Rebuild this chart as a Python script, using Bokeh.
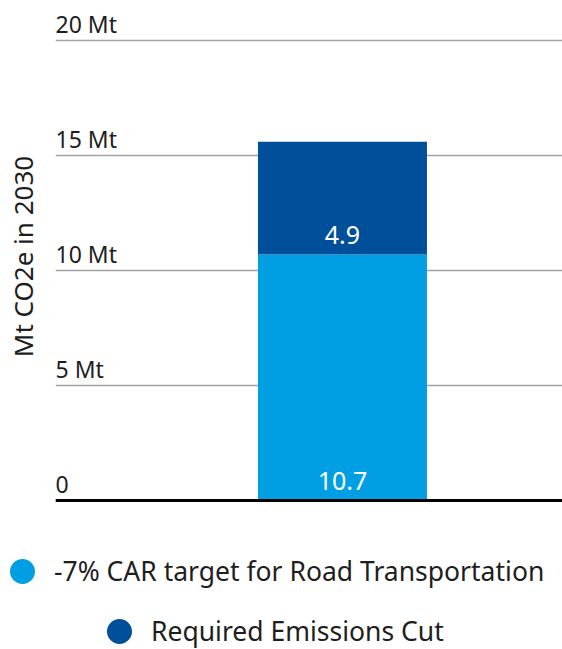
from bokeh.plotting import figure
from bokeh.layouts import column
from bokeh.models import (ColumnDataSource, Range1d, FixedTicker, Span, Legend,
                          LegendItem, LabelSet)
from bokeh.core.properties import value
from bokeh.embed import file_html
from bokeh.resources import INLINE

# ---- data ----
categories = ["2030"]
base_values = [10.7]          # -7% CAR target for Road Transportation
cut_values = [4.9]            # Required Emissions Cut
series_names = ["-7% CAR target for Road Transportation", "Required Emissions Cut"]
series_colors = ["#009FE3", "#004F9A"]
tick_values = [0, 5, 10, 15, 20]
tick_labels = ["0", "5 Mt", "10 Mt", "15 Mt", "20 Mt"]
y_axis_title = "Mt CO2e in 2030"

FONT = "Noto Sans"
TEXT_COLOR = "#1e1e1e"

x_pos = list(range(len(categories)))
source = ColumnDataSource(dict(x=x_pos, cat=categories, base=base_values, cut=cut_values))

x_start, x_end = -1.698, 1.302
p = figure(width=562, height=502, output_backend="svg", toolbar_location=None,
           x_range=Range1d(x_start, x_end), y_range=Range1d(-2 / 23, 21.304),
           min_border_left=55, min_border_right=0, min_border_top=10,
           min_border_bottom=0, outline_line_color=None)
p.frame_align = False

# grid
p.xgrid.visible = False
p.ygrid.ticker = FixedTicker(ticks=tick_values)
p.ygrid.grid_line_color = "#a3a3a3"
p.ygrid.grid_line_width = 1.5

# axes
p.xaxis.visible = False
p.yaxis.ticker = FixedTicker(ticks=[])
p.yaxis.axis_line_color = None
p.yaxis.major_tick_line_color = None
p.yaxis.minor_tick_line_color = None
p.yaxis.axis_label = y_axis_title
p.yaxis.axis_label_text_font = FONT
p.yaxis.axis_label_text_font_size = "26px"
p.yaxis.axis_label_text_font_style = "normal"
p.yaxis.axis_label_text_color = TEXT_COLOR
p.yaxis.axis_label_standoff = 15

# bars
p.vbar_stack(["base", "cut"], x="x", width=1, source=source,
             color=series_colors, line_color=None)

# baseline
p.add_layout(Span(location=0, dimension="width", line_color="black", line_width=3))

# tick labels (left aligned, above grid lines)
tick_src = ColumnDataSource(dict(x=[x_start] * len(tick_values), y=tick_values, t=tick_labels))
p.add_layout(LabelSet(x="x", y="y", text="t", source=tick_src, text_font=value(FONT),
                      text_font_size=value("23px"), text_color=TEXT_COLOR, text_align="left",
                      text_baseline="alphabetic", y_offset=7))

# bar segment labels
seg_src = ColumnDataSource(dict(
    x=x_pos + x_pos,
    y=[0] * len(categories) + base_values,
    t=[f"{v:.1f}" for v in base_values + cut_values]))
p.add_layout(LabelSet(x="x", y="y", text="t", source=seg_src, text_font=value(FONT),
                      text_font_size=value("25px"), text_color="white", text_align="center",
                      text_baseline="alphabetic", y_offset=10))

# ---- legend panel ----
lp = figure(width=562, height=147, output_backend="svg", toolbar_location=None,
            x_range=Range1d(0, 1), y_range=Range1d(0, 1),
            min_border_left=0, min_border_right=0, min_border_top=0,
            min_border_bottom=0, outline_line_color=None)
lp.frame_align = False
lp.xaxis.visible = False
lp.yaxis.visible = False
lp.xgrid.visible = False
lp.ygrid.visible = False

# legend marker renderers (their points fall outside this panel's ranges)
leg_renderers = []
for vals, c in zip([base_values, cut_values], series_colors):
    r = lp.scatter(x=x_pos, y=vals, marker="circle", fill_color=c,
                   line_color=c, line_width=13)
    leg_renderers.append(r)

def make_legend(label, renderer, loc):
    return Legend(items=[LegendItem(label=label, renderers=[renderer])],
                  location=loc, orientation="horizontal",
                  glyph_width=30, glyph_height=30, label_standoff=17,
                  padding=0, margin=0, spacing=0,
                  background_fill_alpha=0, border_line_color=None,
                  label_text_font=FONT, label_text_font_size="26.5px",
                  label_text_color=TEXT_COLOR)

lp.add_layout(make_legend(series_names[0], leg_renderers[0], (7, 60)))
lp.add_layout(make_legend(series_names[1], leg_renderers[1], (104, 0)))

layout = column(p, lp, spacing=0)
open("out.html", "w").write(file_html(layout, INLINE))
